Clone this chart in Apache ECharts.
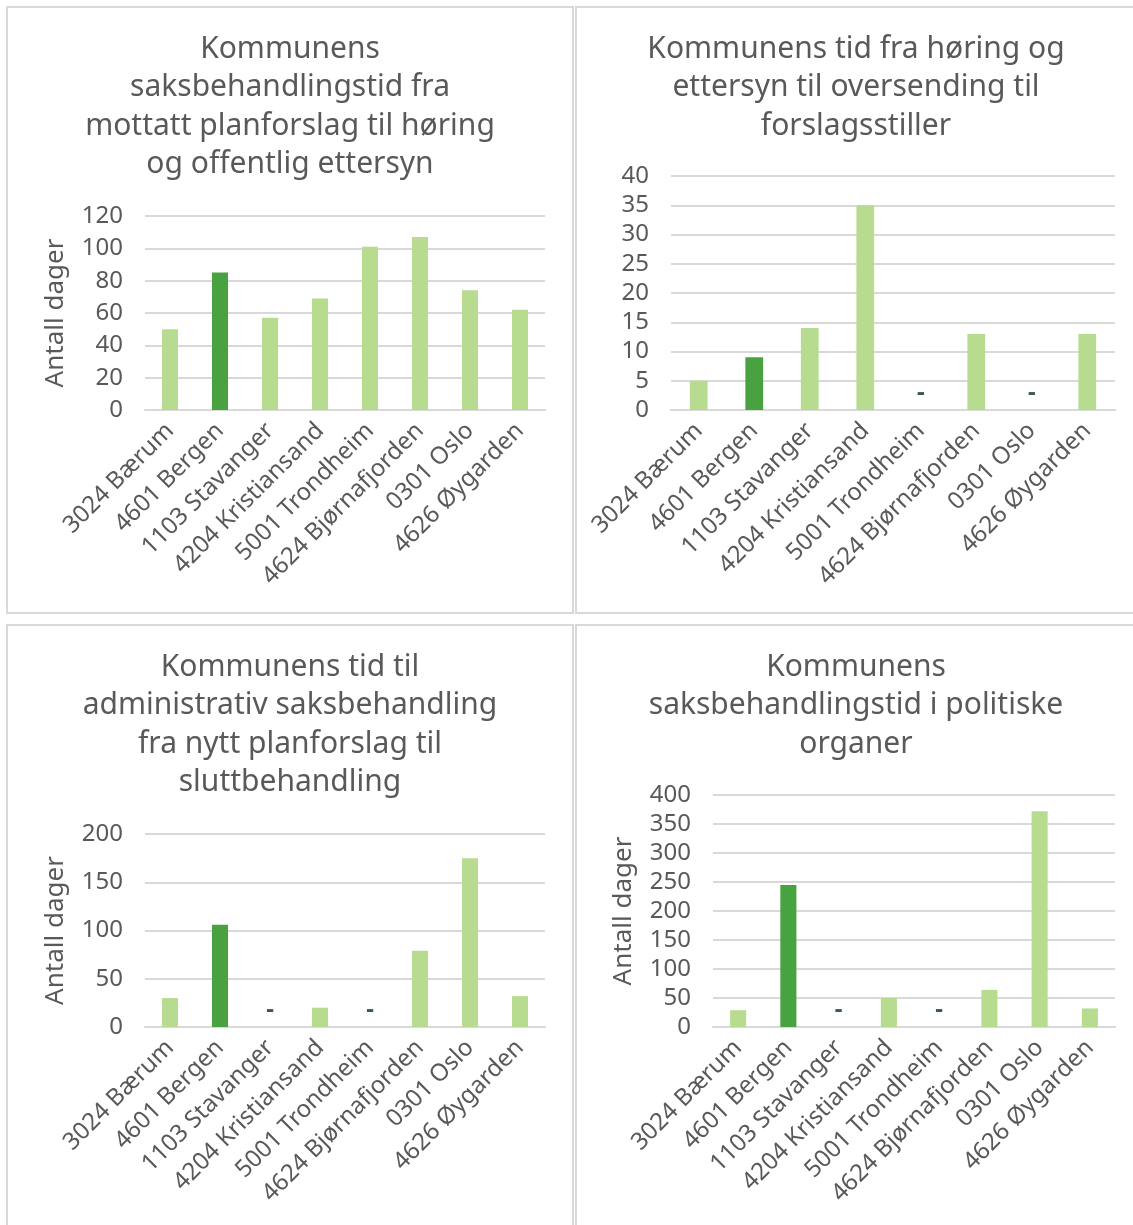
<!DOCTYPE html>
<html>
<head>
<meta charset="utf-8">
<script src="https://cdn.jsdelivr.net/npm/echarts@6/dist/echarts.min.js"></script>
<style>
    body { margin: 0; background: #fff; width: 1133px; height: 1225px; overflow: hidden; position: relative; }
    .panel { position: absolute; border: 2px solid #d9d9d9; }
    .panel .chart { width: 100%; height: 100%; }
</style>
</head>
<body>
<div class="panel" style="left:6px;top:6px;width:564px;height:604px;"><div class="chart" id="c1"></div></div>
<div class="panel" style="left:575px;top:6px;width:558px;height:604px;"><div class="chart" id="c2"></div></div>
<div class="panel" style="left:6px;top:624px;width:564px;height:606px;"><div class="chart" id="c3"></div></div>
<div class="panel" style="left:575px;top:624px;width:558px;height:606px;"><div class="chart" id="c4"></div></div>
<script>
// kommuner (samme rekkefølge i alle fire diagram)
var kommuner = ['3024 Bærum', '4601 Bergen', '1103 Stavanger', '4204 Kristiansand',
    '5001 Trondheim', '4624 Bjørnafjorden', '0301 Oslo', '4626 Øygarden'];

// antall dager, null = mangler data (vises som "-")
var horingDager = [50, 85, 57, 69, 101, 107, 74, 62];
var oversendingDager = [5, 9, 14, 35, null, 13, null, 13];
var adminDager = [30, 106, null, 20, null, 79, 175, 32];
var politiskDager = [29, 245, null, 50, null, 64, 372, 32];

var titler = [
    'Kommunens\nsaksbehandlingstid fra\nmottatt planforslag til høring\nog offentlig ettersyn',
    'Kommunens tid fra høring og\nettersyn til oversending til\nforslagsstiller',
    'Kommunens tid til\nadministrativ saksbehandling\nfra nytt planforslag til\nsluttbehandling',
    'Kommunens\nsaksbehandlingstid i politiske\norganer'
];

var fremhevet = '4601 Bergen';
var lysGronn = '#b8dc8f';
var morkGronn = '#48a23f';
var tekstFarge = '#595959';
var font = '"Noto Sans", sans-serif';

function lagOption(tittel, verdier, yMax, yIntervall, yNavn, grid) {
    var data = verdier.map(function (v, i) {
        if (v === null) {
            return {
                value: 0,
                itemStyle: { color: 'transparent' },
                label: { show: true, formatter: '-', position: 'top', distance: 5,
                    color: '#3b5a4d', fontSize: 24, fontWeight: 'bold', fontFamily: font }
            };
        }
        return {
            value: v,
            itemStyle: { color: kommuner[i] === fremhevet ? morkGronn : lysGronn }
        };
    });
    return {
        animation: false,
        textStyle: { fontFamily: font },
        title: {
            text: tittel,
            left: 'center',
            top: 22,
            padding: 0,
            textStyle: { fontSize: 30, lineHeight: 38.5, fontWeight: 'normal', color: tekstFarge, fontFamily: font }
        },
        grid: grid,
        xAxis: {
            type: 'category',
            data: kommuner,
            axisLine: { show: true, lineStyle: { color: '#d9d9d9', width: 2 } },
            axisTick: { show: false },
            axisLabel: { rotate: 45, interval: 0, margin: 17, fontSize: 24, color: tekstFarge, fontFamily: font }
        },
        yAxis: {
            type: 'value',
            min: 0,
            max: yMax,
            interval: yIntervall,
            name: yNavn,
            nameLocation: 'middle',
            nameGap: 76,
            nameTextStyle: { fontSize: 26, color: tekstFarge, fontFamily: font },
            axisLine: { show: false },
            axisTick: { show: false },
            axisLabel: { margin: 22, fontSize: 24, color: tekstFarge, fontFamily: font },
            splitLine: { lineStyle: { color: '#d9d9d9', width: 2 } }
        },
        series: [{
            type: 'bar',
            barWidth: '32%',
            data: data
        }]
    };
}

var oppsett = [
    ['c1', titler[0], horingDager, 120, 20, 'Antall dager', { left: 137, right: 27, top: 208, bottom: 202 }],
    ['c2', titler[1], oversendingDager, 40, 5, '', { left: 94, right: 20, top: 168, bottom: 202 }],
    ['c3', titler[2], adminDager, 200, 50, 'Antall dager', { left: 137, right: 27, top: 208, bottom: 205 }],
    ['c4', titler[3], politiskDager, 400, 50, 'Antall dager', { left: 136, right: 20, top: 169, bottom: 205 }]
];

oppsett.forEach(function (o) {
    var chart = echarts.init(document.getElementById(o[0]));
    chart.setOption(lagOption(o[1], o[2], o[3], o[4], o[5], o[6]));
});
</script>
</body>
</html>
